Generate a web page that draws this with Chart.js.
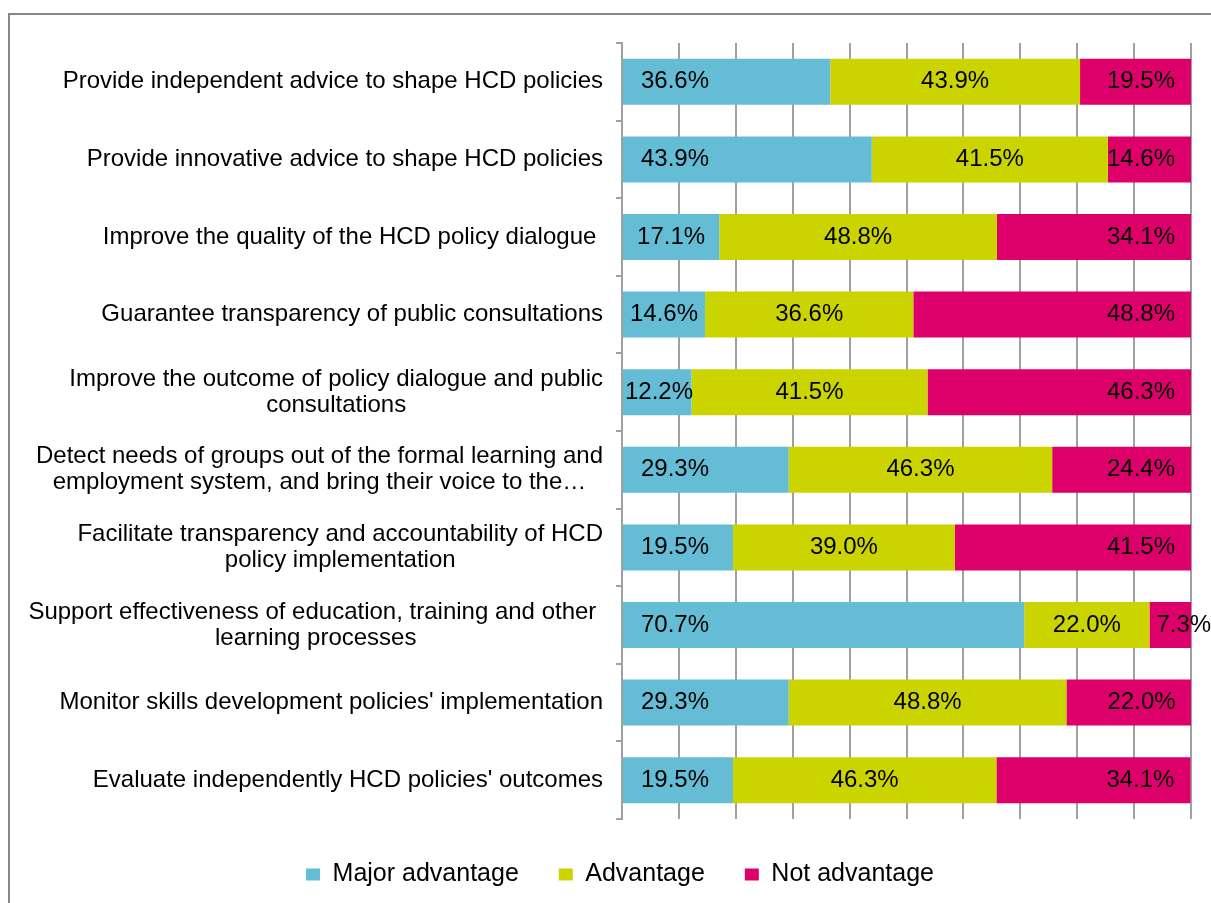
<!DOCTYPE html>
<html>
<head>
<meta charset="utf-8">
<script src="https://cdn.jsdelivr.net/npm/chart.js@4.4.1/dist/chart.umd.min.js"></script>
<style>
  html, body { margin: 0; padding: 0; background: #fff; }
  #wrap { position: relative; width: 1211px; height: 903px; }
</style>
</head>
<body>
<div id="wrap"><canvas id="myChart1"></canvas></div>
<script>
const categories = [
    "Provide independent advice to shape HCD policies",
    "Provide innovative advice to shape HCD policies",
    "Improve the quality of the HCD policy dialogue ",
    "Guarantee transparency of public consultations",
    ["Improve the outcome of policy dialogue and public", "consultations"],
    ["Detect needs of groups out of the formal learning and", "employment system, and bring their voice to the\u2026"],
    ["Facilitate transparency and accountability of HCD", "policy implementation"],
    ["Support effectiveness of education, training and other ", "learning processes"],
    "Monitor skills development policies' implementation",
    "Evaluate independently HCD policies' outcomes"
]
const majorAdvantage = [36.6, 43.9, 17.1, 14.6, 12.2, 29.3, 19.5, 70.7, 29.3, 19.5]
const advantage = [43.9, 41.5, 48.8, 36.6, 41.5, 46.3, 39.0, 22.0, 48.8, 46.3]
const notAdvantage = [19.5, 14.6, 34.1, 48.8, 46.3, 24.4, 41.5, 7.3, 22.0, 34.1]
const seriesNames = ["Major advantage", "Advantage", "Not advantage"]

const FONT = "'Liberation Sans', Arial, sans-serif"
const GRID = '#a0a0a0'

// frame round the picture
const framePlugin = {
    id: 'frame',
    beforeDraw(chart) {
        const ctx = chart.ctx
        ctx.save()
        ctx.strokeStyle = '#878787'
        ctx.lineWidth = 2
        ctx.strokeRect(9, 14, 1400, 1200)
        ctx.restore()
    }
}

// category labels: block right aligned, lines centred inside the block
const catLabelPlugin = {
    id: 'catLabels',
    afterDraw(chart) {
        const ctx = chart.ctx
        const y = chart.scales.y
        ctx.save()
        ctx.font = '24px ' + FONT
        ctx.fillStyle = '#000'
        ctx.textBaseline = 'middle'
        ctx.textAlign = 'center'
        const right = y.right - 19
        const lh = 26
        categories.forEach((lab, i) => {
            const lines = Array.isArray(lab) ? lab : [lab]
            const w = Math.max(...lines.map(l => ctx.measureText(l).width))
            const cx = right - w / 2
            const cy = y.getPixelForValue(i)
            lines.forEach((l, j) => {
                ctx.fillText(l, cx, cy + (j - (lines.length - 1) / 2) * lh)
            })
        })
        ctx.restore()
    }
}

// value labels inside the bars
const valueLabelPlugin = {
    id: 'valueLabels',
    afterDatasetsDraw(chart) {
        const ctx = chart.ctx
        ctx.save()
        ctx.font = '24px ' + FONT
        ctx.fillStyle = '#000'
        ctx.textBaseline = 'middle'
        chart.data.datasets.forEach((ds, di) => {
            const meta = chart.getDatasetMeta(di)
            meta.data.forEach((bar, i) => {
                const p = bar.getProps(['x', 'y', 'base'], true)
                const txt = ds.data[i].toFixed(1) + '%'
                const w = ctx.measureText(txt).width
                const left = Math.min(p.x, p.base), right = Math.max(p.x, p.base)
                if (di === 0) {
                    // inside base
                    const pad = Math.min(18, Math.max(2, (right - left - w) / 2))
                    ctx.textAlign = 'left'
                    ctx.fillText(txt, left + pad, p.y)
                } else if (di === 1) {
                    ctx.textAlign = 'center'
                    ctx.fillText(txt, (left + right) / 2, p.y)
                } else {
                    // inside end, spills out when too narrow
                    if (w > right - left - 8) {
                        ctx.textAlign = 'left'
                        ctx.fillText(txt, left + 7, p.y)
                    } else {
                        ctx.textAlign = 'right'
                        ctx.fillText(txt, right - 16, p.y)
                    }
                }
            })
        })
        ctx.restore()
    }
}

const data1 = {
    labels: categories,
    datasets: [{
        label: seriesNames[0],
        data: majorAdvantage,
        backgroundColor: 'rgb(100, 189, 213)'
    }, {
        label: seriesNames[1],
        data: advantage,
        backgroundColor: 'rgb(204, 212, 0)'
    }, {
        label: seriesNames[2],
        data: notAdvantage,
        backgroundColor: 'rgb(221, 0, 106)'
    }]
}

const config1 = {
    type: 'bar',
    data: data1,
    plugins: [framePlugin, catLabelPlugin, valueLabelPlugin],
    options: {
        indexAxis: 'y',
        responsive: true,
        maintainAspectRatio: false,
        animation: false,
        categoryPercentage: 1,
        barPercentage: 0.593,
        layout: {
            padding: { top: 43, right: 20, left: 49, bottom: 6 }
        },
        scales: {
            x: {
                stacked: true,
                min: 0,
                max: 100,
                ticks: { display: false, stepSize: 10 },
                grid: { color: GRID, lineWidth: 2, drawTicks: false },
                border: { display: false },
                afterFit(scale) { scale.height = 3 }
            },
            y: {
                stacked: true,
                ticks: { display: false },
                grid: {
                    offset: true,
                    drawOnChartArea: false,
                    color: GRID,
                    lineWidth: 2,
                    tickLength: 6
                },
                border: { display: true, color: GRID, width: 2 },
                afterFit(scale) { scale.width = 573 }
            }
        },
        plugins: {
            legend: {
                display: true,
                position: 'bottom',
                labels: {
                    color: '#000',
                    font: { family: FONT, size: 25 },
                    boxWidth: 14,
                    boxHeight: 12,
                    padding: 40
                }
            },
            tooltip: { enabled: false }
        }
    }
}

var myChart = new Chart(
    document.getElementById('myChart1'),
    config1
)
</script>
</body>
</html>
